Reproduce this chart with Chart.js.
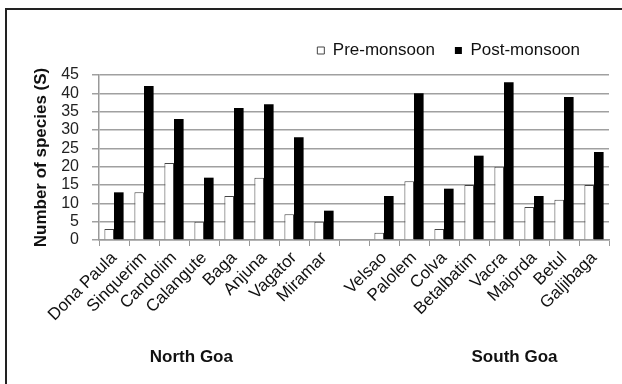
<!DOCTYPE html>
<html>
<head>
<meta charset="utf-8">
<script src="https://cdn.jsdelivr.net/npm/chart.js@4.4.1/dist/chart.umd.min.js"></script>
<style>
  html, body { margin: 0; padding: 0; background: #fff; }
  #wrap { position: relative; width: 622px; height: 384px; overflow: hidden; }
  #frame { position: absolute; left: 5px; top: 8px; width: 700px; height: 500px; border-left: 2px solid #222; border-top: 2px solid #222; }
  #myChart { position: absolute; left: 0; top: 0; }
</style>
</head>
<body>
<div id="wrap">
  <div id="frame"></div>
  <canvas id="myChart" width="622" height="384"></canvas>
</div>
<script>
const beaches = ['Dona Paula', 'Sinquerim', 'Candolim', 'Calangute', 'Baga', 'Anjuna', 'Vagator', 'Miramar', '',
  'Velsao', 'Palolem', 'Colva', 'Betalbatim', 'Vacra', 'Majorda', 'Betul', 'Galjibaga'];
const preMonsoon = [3, 13, 21, 5, 12, 17, 7, 5, null, 2, 16, 3, 15, 20, 9, 11, 15];
const postMonsoon = [13, 42, 33, 17, 36, 37, 28, 8, null, 12, 40, 14, 23, 43, 12, 39, 24];
const groupNames = ['North Goa', 'South Goa'];
const groupAt = [2.58, 13.35]; // category index under each group name

const font = 'Liberation Sans, Arial, sans-serif';

// draws the region names under the rotated beach names
const groupLabels = {
  id: 'groupLabels',
  afterLayout(chart) {
    // nudge the legend to where it sits in the original
    chart.legend.right -= 9;
    chart.legend.top -= 6;
    chart.legend.bottom -= 6;
  },
  afterDraw(chart) {
    const c = chart.ctx;
    const xs = chart.scales.x;
    c.save();
    c.font = 'bold 17px ' + font;
    c.fillStyle = '#111';
    c.textAlign = 'center';
    c.textBaseline = 'middle';
    groupNames.forEach((name, i) => {
      c.fillText(name, xs.getPixelForValue(groupAt[i]), 357);
    });
    c.restore();
  }
};

const ctx = document.getElementById('myChart');
new Chart(ctx, {
  type: 'bar',
  data: {
    labels: beaches,
    datasets: [{
      label: 'Pre-monsoon',
      data: preMonsoon,
      backgroundColor: '#fff',
      borderColor: '#444',
      borderWidth: 1
    }, {
      label: 'Post-monsoon',
      data: postMonsoon,
      backgroundColor: '#000',
      borderColor: '#000',
      borderWidth: 0
    }]
  },
  plugins: [groupLabels],
  options: {
    responsive: false,
    animation: false,
    layout: { padding: { left: 27, right: 13, top: 28, bottom: 24 } },
    datasets: { bar: { categoryPercentage: 0.64, barPercentage: 1 } },
    plugins: {
      legend: {
        position: 'top',
        align: 'end',
        labels: {
          boxWidth: 7,
          boxHeight: 7,
          padding: 20,
          color: '#111',
          font: { family: font, size: 17 }
        }
      },
      tooltip: { enabled: false }
    },
    scales: {
      x: {
        afterFit(scale) { scale.height = 120; },
        grid: { drawOnChartArea: false, drawTicks: true, tickLength: 6, color: '#999', offset: true },
        border: { color: '#999', width: 1.5 },
        ticks: {
          autoSkip: false,
          maxRotation: 45,
          minRotation: 45,
          padding: 2,
          color: '#111',
          font: { family: font, size: 17 }
        }
      },
      y: {
        min: 0,
        max: 45,
        afterFit(scale) { scale.width = 72; },
        grid: { color: '#a0a0a0', lineWidth: 1.5, tickLength: 7 },
        border: { color: '#999', width: 1.5 },
        ticks: {
          stepSize: 5,
          autoSkip: false,
          padding: 13,
          color: '#222',
          font: { family: font, size: 16 }
        },
        title: {
          display: true,
          text: 'Number of species (S)',
          color: '#111',
          padding: { top: 4, bottom: 4 },
          font: { family: font, size: 17, weight: 'bold' }
        }
      }
    }
  }
});
</script>
</body>
</html>
